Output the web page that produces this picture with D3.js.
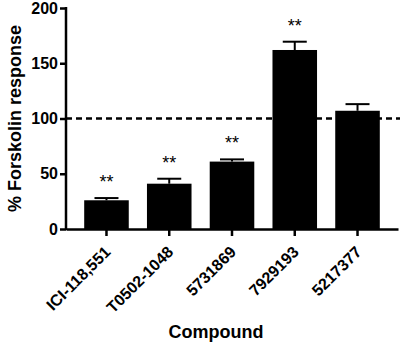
<!DOCTYPE html>
<html>
<head>
<meta charset="utf-8">
<script src="https://cdn.jsdelivr.net/npm/d3@7"></script>
<style>
  body { margin: 0; background: #fff; }
  text { font-family: "Liberation Sans", Arial, sans-serif; font-weight: bold; }
</style>
</head>
<body>
<svg id="chart" width="400" height="342"></svg>
<script>
// Forskolin response by compound, mean + SEM (upper bar only)
const compounds = ["ICI-118,551", "T0502-1048", "5731869", "7929193", "5217377"];
const means = [26, 41, 61, 162, 107];
const errors = [2, 4.5, 2, 7.5, 6];
const marks = ["**", "**", "**", "**", ""];
const yTicks = [0, 50, 100, 150, 200];
const refValue = 100;

const svg = d3.select("#chart");
const margin = { top: 8, right: 2, bottom: 113, left: 66 };
const width = 400, height = 342;

const x = d3.scaleBand()
  .domain(compounds)
  .range([margin.left, width - margin.right])
  .padding(0.29);

const y = d3.scaleLinear()
  .domain([0, 200])
  .range([height - margin.bottom, margin.top]);

const data = compounds.map((c, i) => ({ c, m: means[i], e: errors[i], s: marks[i] }));

// Bars
svg.append("g").selectAll("rect")
  .data(data)
  .join("rect")
  .attr("x", d => x(d.c))
  .attr("y", d => y(d.m))
  .attr("width", x.bandwidth())
  .attr("height", d => y(0) - y(d.m))
  .attr("fill", "#000");

// Error bars (upper only)
const eb = svg.append("g").attr("stroke", "#000").attr("stroke-width", 2);
eb.selectAll("line.v")
  .data(data)
  .join("line")
  .attr("class", "v")
  .attr("x1", d => x(d.c) + x.bandwidth() / 2)
  .attr("x2", d => x(d.c) + x.bandwidth() / 2)
  .attr("y1", d => y(d.m))
  .attr("y2", d => y(d.m + d.e));
eb.selectAll("line.cap")
  .data(data)
  .join("line")
  .attr("class", "cap")
  .attr("x1", d => x(d.c) + x.bandwidth() / 2 - 12)
  .attr("x2", d => x(d.c) + x.bandwidth() / 2 + 12)
  .attr("y1", d => y(d.m + d.e))
  .attr("y2", d => y(d.m + d.e));

// Significance stars
svg.append("g").selectAll("text")
  .data(data)
  .join("text")
  .attr("x", d => x(d.c) + x.bandwidth() / 2)
  .attr("y", d => y(d.m + d.e) - 10)
  .attr("text-anchor", "middle")
  .style("font-size", "18px")
  .style("font-weight", "normal")
  .text(d => d.s);

// Dashed reference line
svg.append("line")
  .attr("x1", margin.left)
  .attr("x2", width)
  .attr("y1", y(refValue))
  .attr("y2", y(refValue))
  .attr("stroke", "#000")
  .attr("stroke-width", 2.5)
  .attr("stroke-dasharray", "6,4");

// Y axis
const yAxis = svg.append("g")
  .attr("transform", `translate(${margin.left},0)`)
  .call(d3.axisLeft(y).tickValues(yTicks).tickSize(6).tickPadding(2).tickSizeOuter(0));
yAxis.select(".domain").attr("stroke-width", 2.5).attr("d", `M0,${y(0) + 1}V${y(200) - 1}`);
yAxis.selectAll(".tick line").attr("stroke-width", 2.5);
yAxis.selectAll(".tick text").style("font-size", "16px").attr("fill", "#000");

// X axis
const xAxis = svg.append("g")
  .attr("transform", `translate(0,${y(0)})`)
  .call(d3.axisBottom(x).tickSize(7).tickSizeOuter(0));
xAxis.select(".domain").attr("stroke-width", 2.5);
xAxis.selectAll(".tick line").attr("stroke-width", 2.5);
xAxis.selectAll(".tick text")
  .style("font-size", "16px")
  .attr("fill", "#000")
  .attr("text-anchor", "end")
  .attr("dy", null)
  .attr("transform", "translate(5,24) rotate(-45)")
  .attr("x", 0)
  .attr("y", 0);

// Axis titles
svg.append("text")
  .attr("transform", "rotate(-90)")
  .attr("x", -(y(0) + y(200)) / 2)
  .attr("y", 21)
  .attr("text-anchor", "middle")
  .style("font-size", "18px")
  .text("% Forskolin response");

svg.append("text")
  .attr("x", (margin.left + width) / 2 - 17)
  .attr("y", 338)
  .attr("text-anchor", "middle")
  .style("font-size", "18px")
  .text("Compound");
</script>
</body>
</html>
